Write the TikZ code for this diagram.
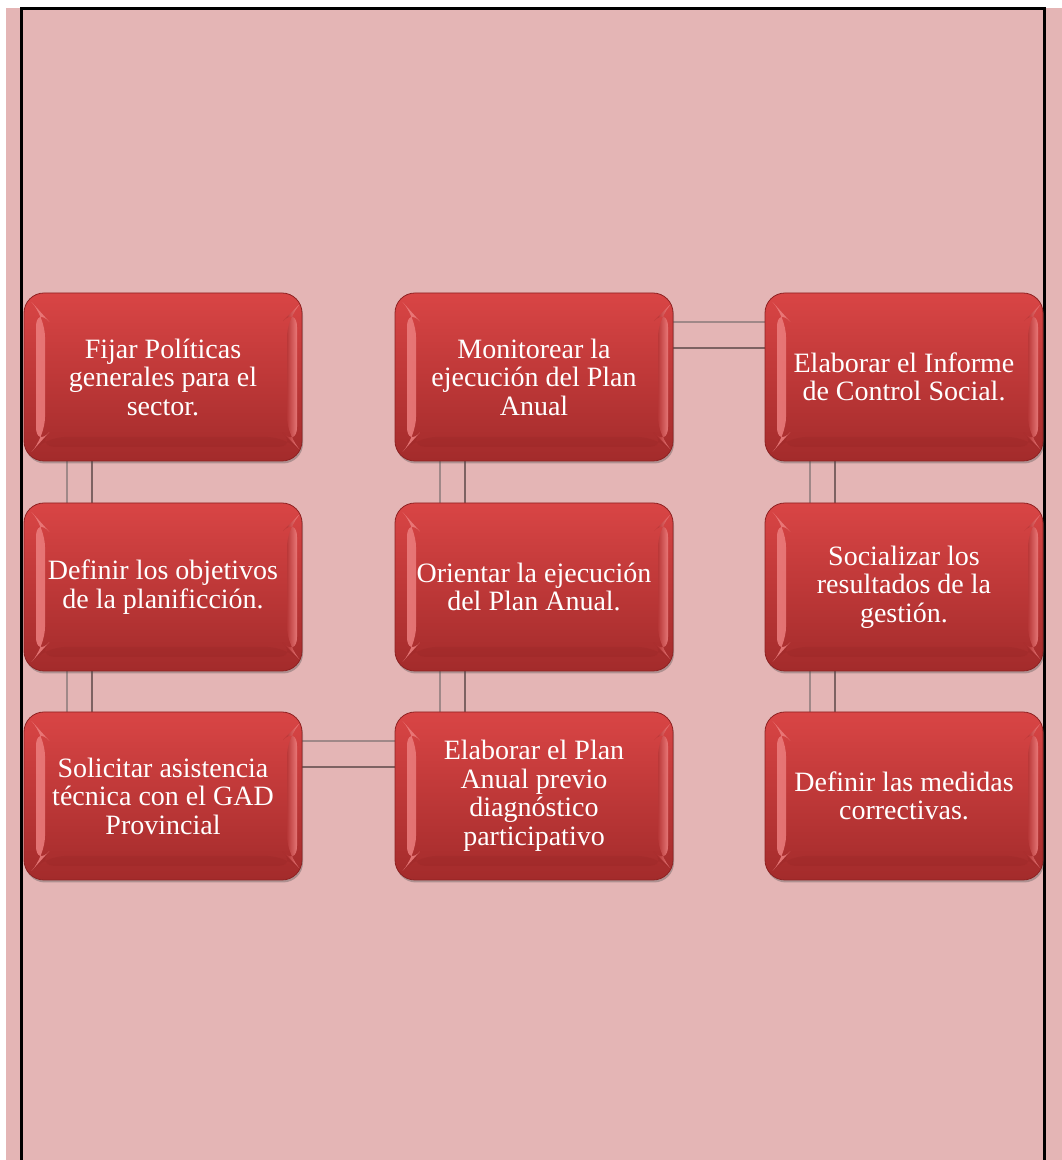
\documentclass[tikz,border=0pt]{standalone}
\usepackage{fontspec}
\setmainfont{Liberation Serif}
\usetikzlibrary{shadows,calc}
\pgfdeclarelayer{bg}
\pgfsetlayers{bg,main}
\definecolor{pinkbg}{HTML}{E4B5B5}
\definecolor{redtop}{HTML}{D94545}
\definecolor{redbot}{HTML}{A32B2B}
\definecolor{rededge}{HTML}{8E2222}
\definecolor{bevlight}{HTML}{EE8282}
\definecolor{bevmid}{HTML}{CC4646}
\definecolor{bevdark}{HTML}{B83838}
\definecolor{lineA}{HTML}{A08888}
\definecolor{lineB}{HTML}{7D6262}
\tikzset{
  redbox/.style={rounded corners=20pt, minimum width=278pt, minimum height=168pt,
    inner sep=0pt, align=center, text=white,
    font=\fontsize{28}{28.5}\selectfont,
    top color=redtop, bottom color=redbot, draw=rededge, line width=0.8pt,
    drop shadow={shadow xshift=1pt, shadow yshift=-2.5pt, opacity=0.35, fill=black!70},
    path picture={
      \shade[left color=bevlight, right color=bevmid, opacity=0.85]
        ([shift={(12,-14)}]path picture bounding box.north west) --
        ([shift={(21,-24)}]path picture bounding box.north west) --
        ([shift={(21,24)}]path picture bounding box.south west) --
        ([shift={(12,14)}]path picture bounding box.south west) -- cycle;
      \shade[left color=bevdark, right color=bevlight, opacity=0.85]
        ([shift={(-15,-24)}]path picture bounding box.north east) --
        ([shift={(-5,-14)}]path picture bounding box.north east) --
        ([shift={(-5,14)}]path picture bounding box.south east) --
        ([shift={(-15,24)}]path picture bounding box.south east) -- cycle;
      \fill[rededge, opacity=0.2]
        ([shift={(12,14)}]path picture bounding box.south west) --
        ([shift={(-5,14)}]path picture bounding box.south east) --
        ([shift={(-15,24)}]path picture bounding box.south east) --
        ([shift={(21,24)}]path picture bounding box.south west) -- cycle;
    }},
  connA/.style={draw=lineA, line width=1.3pt},
  connB/.style={draw=lineB, line width=1.9pt},
}
\begin{document}
\begin{tikzpicture}[x=1pt, y=1pt]
\useasboundingbox (0,0) rectangle (1062,1160);

% column 1
\node[redbox] (a1) at (163,783) {Fijar Políticas\\generales para el\\sector.};
\node[redbox] (a2) at (163,573) {Definir los objetivos\\de la planificción.};
\node[redbox] (a3) at (163,364) {Solicitar asistencia\\técnica con el GAD\\Provincial};
% column 2
\node[redbox] (b1) at (534,783) {Monitorear la\\ejecución del Plan\\Anual};
\node[redbox] (b2) at (534,573) {Orientar la ejecución\\del Plan Anual.};
\node[redbox] (b3) at (534,364) {Elaborar el Plan\\Anual previo\\diagnóstico\\participativo};
% column 3
\node[redbox] (c1) at (904,783) {Elaborar el Informe\\de Control Social.};
\node[redbox] (c2) at (904,573) {Socializar los\\resultados de la\\gestión.};
\node[redbox] (c3) at (904,364) {Definir las medidas\\correctivas.};

\begin{pgfonlayer}{bg}
  \fill[white] (0,0) rectangle (1062,1160);
  \fill[pinkbg] (6,0) rectangle (1062,1152);
  \draw[black, line width=3pt] (21.5,0) -- (21.5,1151) -- (1044.5,1151) -- (1044.5,0);
  % column 1 verticals
  \foreach \u/\v in {a1/a2, a2/a3} {
    \draw[connA] ([xshift=-96pt]\u.south) -- ([xshift=-96pt]\v.north);
    \draw[connB] ([xshift=-71pt]\u.south) -- ([xshift=-71pt]\v.north);
  }
  % column 2 verticals
  \foreach \u/\v in {b1/b2, b2/b3} {
    \draw[connA] ([xshift=-94pt]\u.south) -- ([xshift=-94pt]\v.north);
    \draw[connB] ([xshift=-69pt]\u.south) -- ([xshift=-69pt]\v.north);
  }
  % column 3 verticals
  \foreach \u/\v in {c1/c2, c2/c3} {
    \draw[connA] ([xshift=-94pt]\u.south) -- ([xshift=-94pt]\v.north);
    \draw[connB] ([xshift=-69pt]\u.south) -- ([xshift=-69pt]\v.north);
  }
  % horizontals
  \draw[connA] ([yshift=55pt]a3.east) -- ([yshift=55pt]b3.west);
  \draw[connB] ([yshift=29pt]a3.east) -- ([yshift=29pt]b3.west);
  \draw[connA] ([yshift=55pt]b1.east) -- ([yshift=55pt]c1.west);
  \draw[connB] ([yshift=29pt]b1.east) -- ([yshift=29pt]c1.west);
\end{pgfonlayer}
\end{tikzpicture}
\end{document}
